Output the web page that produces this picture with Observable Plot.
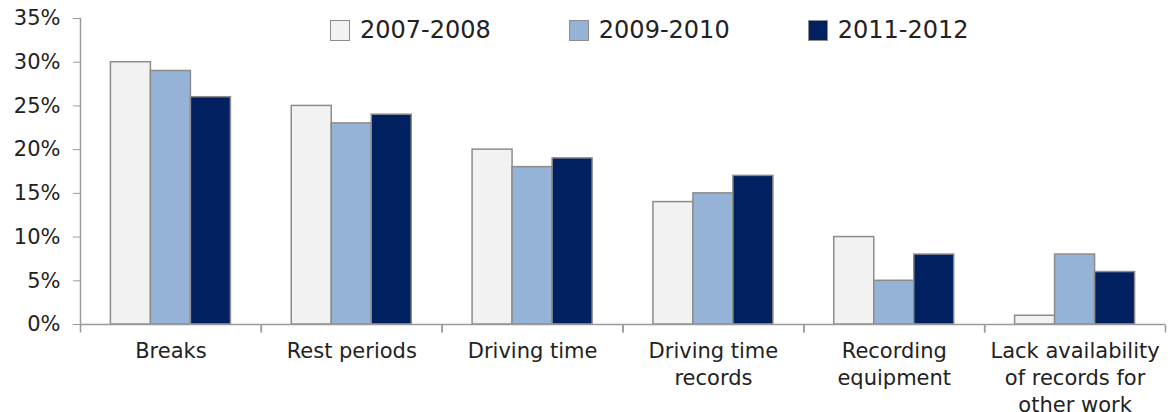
<!DOCTYPE html>
<html><head><meta charset="utf-8">
<script src="https://cdn.jsdelivr.net/npm/d3@7"></script>
<script src="https://cdn.jsdelivr.net/npm/@observablehq/plot@0.6"></script>
<style>
body{margin:0;background:#fff;font-family:"DejaVu Sans",Verdana,sans-serif;}
#wrap{position:relative;width:1170px;height:412px;}
#legend{position:absolute;left:330px;top:20px;display:flex;gap:78px;font-size:24px;color:#222;line-height:21px;}
.item{display:flex;align-items:center;}
.sw{width:20px;height:21px;box-sizing:border-box;border:1.5px solid #8c8c8c;margin-right:10px;}
</style></head>
<body><div id="wrap"><div id="legend"></div></div>
<script>
const categories = ["Breaks", "Rest periods", "Driving time", "Driving time records", "Recording equipment", "Lack availability of records for other work"];
const categoryLabels = ["Breaks", "Rest periods", "Driving time", "Driving time\nrecords", "Recording\nequipment", "Lack availability\nof records for\nother work"];
const series = ["2007-2008", "2009-2010", "2011-2012"];
const seriesColors = ["#f2f2f2", "#95b3d7", "#002060"];
const values0708 = [30, 25, 20, 14, 10, 1];
const values0910 = [29, 23, 18, 15, 5, 8];
const values1112 = [26, 24, 19, 17, 8, 6];
const yTicks = [0, 5, 10, 15, 20, 25, 30, 35];

const seriesValues = [values0708, values0910, values1112];
const rows = [];
categories.forEach((c, i) => series.forEach((s, j) => rows.push({category: c, series: s, value: seriesValues[j][i]})));

const tickDown = {draw(context, size) { const r = Math.sqrt(size / Math.PI); context.moveTo(0, 0); context.lineTo(0, r); }};
const axisGray = "#9a9a9a";

const chart = Plot.plot({
  width: 1170,
  height: 412,
  marginTop: 18,
  marginBottom: 88,
  marginLeft: 80,
  marginRight: 5,
  style: {fontFamily: "DejaVu Sans, Verdana, sans-serif", fontSize: "21px", color: "#222", background: "#fff"},
  fx: {domain: categories, padding: 0, round: false, label: null},
  x: {domain: series, paddingInner: 0, paddingOuter: 0.76, round: false, axis: null},
  y: {domain: [0, 35], label: null},
  color: {domain: series, range: seriesColors},
  marks: [
    Plot.frame({anchor: "left", facetAnchor: "left", stroke: axisGray, strokeWidth: 1.5}),
    Plot.barY(rows, {fx: "category", x: "series", y: "value", fill: "series", stroke: "#8c8c8c", strokeWidth: 1.5}),
    Plot.ruleY([0], {stroke: axisGray, strokeWidth: 1.5}),
    Plot.dot([0], {frameAnchor: "bottom-left", symbol: tickDown, r: 8, stroke: axisGray, fill: "none", strokeWidth: 1.5}),
    Plot.dot([0], {frameAnchor: "bottom-right", symbol: tickDown, r: 8, stroke: axisGray, fill: "none", strokeWidth: 1.5}),
    Plot.axisY({ticks: yTicks, tickFormat: d => d + "%", tickSize: 7, tickPadding: 13, stroke: axisGray, fill: "#222", fontSize: 21, label: null}),
    Plot.axisFx({anchor: "bottom", tickSize: 0, tickPadding: 14, lineHeight: 1.3, fontSize: 21, fill: "#222", label: null,
      tickFormat: d => categoryLabels[categories.indexOf(d)]})
  ]
});
document.getElementById("wrap").prepend(chart);

const legend = document.getElementById("legend");
series.forEach((s, j) => {
  const item = document.createElement("div");
  item.className = "item";
  const sw = document.createElement("div");
  sw.className = "sw";
  sw.style.background = seriesColors[j];
  const label = document.createElement("span");
  label.textContent = s;
  item.append(sw, label);
  legend.append(item);
});
</script>
</body></html>
